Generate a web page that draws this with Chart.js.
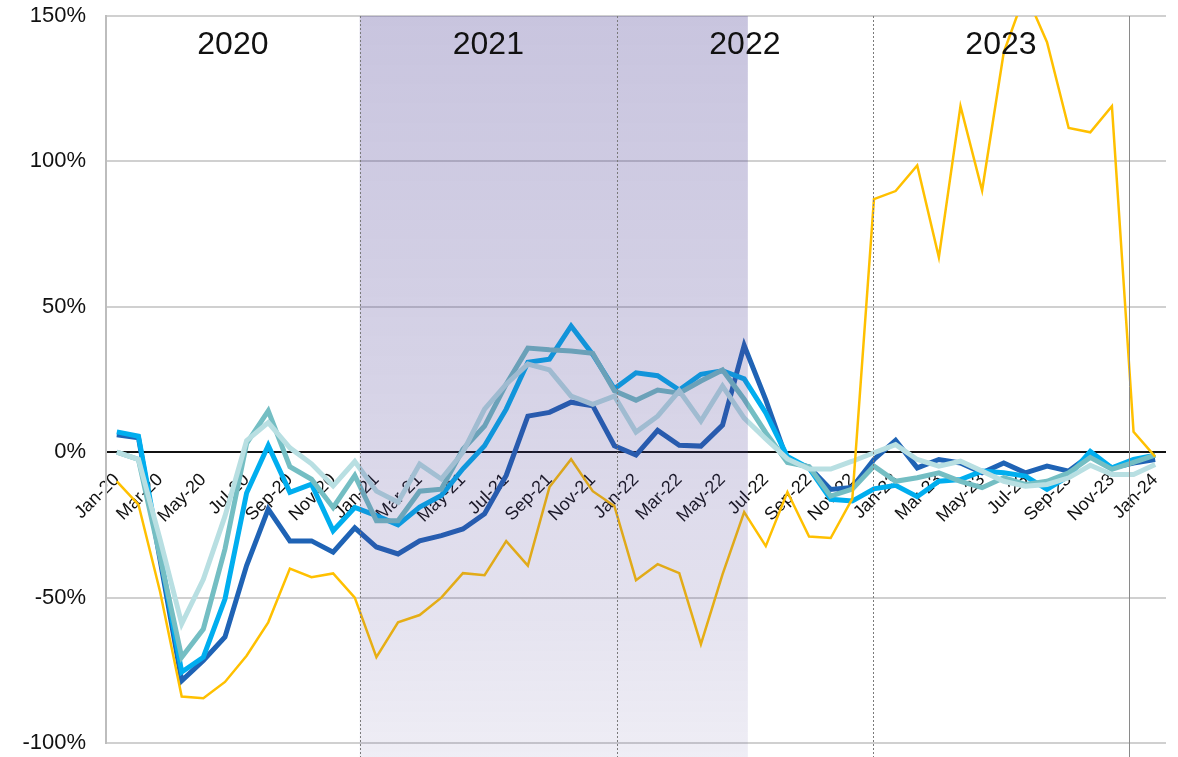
<!DOCTYPE html>
<html>
<head>
<meta charset="utf-8">
<script src="https://cdn.jsdelivr.net/npm/chart.js@4.4.1/dist/chart.umd.min.js"></script>
<style>
  html, body { margin: 0; padding: 0; background: #fff; }
  #wrap { width: 1178px; height: 757px; }
</style>
</head>
<body>
<div id="wrap"><canvas id="chart" width="1178" height="757"></canvas></div>
<script>
// monthly categories, Jan-20 .. Jan-24
const months = [
  'Jan-20','Feb-20','Mar-20','Apr-20','May-20','Jun-20','Jul-20','Aug-20','Sep-20','Oct-20','Nov-20','Dec-20',
  'Jan-21','Feb-21','Mar-21','Apr-21','May-21','Jun-21','Jul-21','Aug-21','Sep-21','Oct-21','Nov-21','Dec-21',
  'Jan-22','Feb-22','Mar-22','Apr-22','May-22','Jun-22','Jul-22','Aug-22','Sep-22','Oct-22','Nov-22','Dec-22',
  'Jan-23','Feb-23','Mar-23','Apr-23','May-23','Jun-23','Jul-23','Aug-23','Sep-23','Oct-23','Nov-23','Dec-23',
  'Jan-24'
];

// series values (% change)
const yellowSeries = [
  -10, -18, -48, -84, -84.6, -79, -70, -58.5, -40, -43, -41.7, -50,
  -70.5, -58.5, -56, -50, -41.6, -42.3, -30.6, -39, -12, -2.4, -13.4, -18.5,
  -44, -38.5, -41.6, -66, -42, -20.6, -32.3, -13.7, -29, -29.5, -16, 87,
  89.8, 98.6, 67, 119, 90, 137.5, 158, 141, 111.5, 110, 119, 7,
  -1.5
];
const darkBlueSeries = [
  6, 5, -37, -78.6, -71.6, -63.5, -39, -19.6, -30.5, -30.5, -34.4, -26,
  -32.6, -35, -30.5, -28.7, -26.4, -21.2, -8, 12.4, 13.7, 17.2, 16, 2.2,
  -1, 7.5, 2.4, 2.1, 9.3, 36.7, 18, -3, -5.1, -12.8, -12.1, -2.5,
  4.1, -5.4, -2.5, -3.7, -7.1, -3.7, -7.1, -4.8, -6.5, -1, -5.4, -3.7,
  -2.5
];
const cyanSeries = [
  7, 5.5, -35, -75.6, -70.5, -50.5, -14, 2.3, -13.8, -11, -27, -19,
  -21.8, -25, -18.9, -14.9, -5.7, 2.2, 14.8, 30.9, 32, 43.4, 33.6, 21.8,
  27.3, 26.3, 21.4, 26.8, 28, 25.2, 13.5, -1.5, -5.5, -16.2, -16.8, -12.6,
  -11.4, -15.3, -10, -9.4, -6.5, -7.1, -8.2, -12.8, -8.2, 0.3, -5.4, -2.5,
  -1
];
const tealSeries = [
  0, -2.5, -36, -70.5, -60.8, -33.3, 3, 14.2, -5, -9.3, -19, -8,
  -23.6, -23.6, -13.4, -12.7, 1, 9, 23.4, 35.8, 35.2, 34.8, 34, 21.1,
  17.9, 21.4, 20.3, 24.5, 28.3, 18.2, 6.7, -3.5, -5, -15.1, -12.7, -4.8,
  -10, -8.8, -7.1, -10, -12.2, -8.8, -11.1, -10, -7.1, -1.8, -5.9, -3.5,
  -1
];
const lightTealSeries = [
  0, -2.5, -30, -59, -43.7, -22, 4, 10.2, 1.5, -4, -11.6, -3.2,
  -13.4, -17.2, -4.1, -9.2, 0, 14.8, 23.4, 30.3, 28.3, 19.3, 16.5, 19.3,
  6.9, 12.4, 21.1, 10.7, 22.7, 11.7, 4.6, -2.3, -5.8, -5.8, -3.1, -0.2,
  2.6, -2.5, -4.8, -3.1, -6.5, -10, -11.7, -11.1, -8.8, -4.5, -7.7, -7.7,
  -4.2
];

// y axis ticks
const yTicks = [-100, -50, 0, 50, 100, 150];

// year bands: labels and divider positions (in month-index units)
const yearLabels = ['2020', '2021', '2022', '2023'];
const yearDividers = [11.23, 23.12, 34.95, 46.79];
const shadedRange = [11.23, 29.17];

Chart.defaults.font.family = '"Liberation Sans", Arial, Helvetica, sans-serif';
Chart.defaults.color = '#111';

const noPadding = (scale) => {
  scale.paddingTop = 0;
  scale.paddingBottom = 0;
  scale.paddingLeft = 0;
  scale.paddingRight = 0;
};

const yearBands = {
  id: 'yearBands',
  afterDatasetsDraw(chart) {
    const { ctx, chartArea, scales } = chart;
    const x = scales.x;
    const bottom = chart.height;

    // translucent band over 2021 - mid 2022
    const x0 = x.getPixelForValue(shadedRange[0]);
    const x1 = x.getPixelForValue(shadedRange[1]);
    const grad = ctx.createLinearGradient(0, chartArea.top, 0, bottom);
    grad.addColorStop(0, 'rgba(75, 62, 148, 0.30)');
    grad.addColorStop(0.55, 'rgba(75, 62, 148, 0.22)');
    grad.addColorStop(1, 'rgba(75, 62, 148, 0.09)');
    ctx.save();
    ctx.fillStyle = grad;
    ctx.fillRect(x0, chartArea.top, x1 - x0, bottom - chartArea.top);

    // year dividers
    yearDividers.forEach((d, i) => {
      const px = Math.round(x.getPixelForValue(d)) + 0.5;
      ctx.beginPath();
      ctx.lineWidth = 1;
      if (i < yearDividers.length - 1) {
        ctx.strokeStyle = '#7a7a7a';
        ctx.setLineDash([2, 2]);
      } else {
        ctx.strokeStyle = '#8a8a8a';
        ctx.setLineDash([]);
      }
      ctx.moveTo(px, chartArea.top);
      ctx.lineTo(px, bottom);
      ctx.stroke();
    });
    ctx.setLineDash([]);

    // year labels
    const edges = [chartArea.left].concat(yearDividers.map(d => x.getPixelForValue(d)));
    ctx.fillStyle = '#111';
    ctx.font = '32px "Liberation Sans", Arial, sans-serif';
    ctx.textAlign = 'center';
    ctx.textBaseline = 'middle';
    yearLabels.forEach((label, i) => {
      ctx.fillText(label, (edges[i] + edges[i + 1]) / 2, chartArea.top + 29);
    });
    ctx.restore();
  }
};

const line = (data, color, width, order) => ({
  data,
  borderColor: color,
  backgroundColor: color,
  borderWidth: width,
  pointRadius: 0,
  tension: 0,
  fill: false,
  order
});

new Chart(document.getElementById('chart'), {
  type: 'line',
  data: {
    labels: months,
    datasets: [
      line(yellowSeries, '#FFC000', 2.5, 0),
      line(lightTealSeries, '#B8DFE2', 5, 1),
      line(tealSeries, '#74BEC3', 5, 2),
      line(cyanSeries, '#00AEEF', 5, 3),
      line(darkBlueSeries, '#1F63B5', 5, 4)
    ]
  },
  options: {
    responsive: false,
    animation: false,
    layout: { padding: { top: 16, right: 12, bottom: 14, left: 0 } },
    plugins: {
      legend: { display: false },
      tooltip: { enabled: false }
    },
    scales: {
      x: {
        type: 'category',
        offset: true,
        position: { y: 0 },
        afterFit: (scale) => { scale.height = 0; noPadding(scale); },
        grid: { display: false },
        border: { display: false },
        ticks: {
          autoSkip: false,
          minRotation: 45,
          maxRotation: 45,
          padding: 9,
          font: { size: 18 },
          color: '#111',
          callback: (value, index) => (index % 2 === 0 ? months[index] : '')
        }
      },
      y: {
        min: yTicks[0],
        max: yTicks[yTicks.length - 1],
        afterFit: (scale) => { scale.width = 106; noPadding(scale); },
        afterBuildTicks: (scale) => { scale.ticks = yTicks.map(v => ({ value: v })); },
        grid: {
          drawTicks: false,
          color: (ctx) => (ctx.tick && ctx.tick.value === 0 ? '#111' : '#D0D0D0'),
          lineWidth: 2
        },
        border: { display: true, color: '#BDBDBD', width: 2 },
        ticks: {
          padding: 20,
          font: { size: 22 },
          color: '#111',
          callback: (value) => value + '%'
        }
      }
    }
  },
  plugins: [yearBands]
});
</script>
</body>
</html>
